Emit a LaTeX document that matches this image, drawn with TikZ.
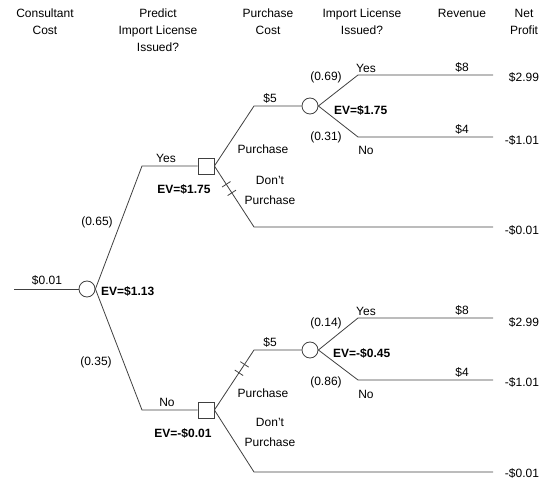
\documentclass[tikz,border=0pt]{standalone}
\usepackage{fontspec}
\setmainfont{Liberation Sans}
\usetikzlibrary{calc}
\begin{document}
\begin{tikzpicture}[x=1pt,y=-1pt,
  every node/.style={inner sep=0pt, font=\fontsize{12}{14}\selectfont},
  branch/.style={draw=black!75, line width=0.8pt},
  chance/.style={circle, draw=black!75, line width=0.8pt, minimum size=16pt, inner sep=0pt},
  decision/.style={rectangle, draw=black!75, line width=0.8pt, minimum size=16pt, inner sep=0pt},
  lbl/.style={font=\fontsize{12}{14}\selectfont},
  ev/.style={font=\bfseries\fontsize{12}{14}\selectfont},
  hdr/.style={align=center, anchor=north, font=\fontsize{12}{17}\selectfont}]
\useasboundingbox (0,0) rectangle (549,481);

% headers
\node[hdr] (h1) at (45,9) {Consultant\\Cost};
\node[hdr] (h2) at (158,9) {Predict\\Import License\\Issued?};
\node[hdr] (h3) at (268,9) {Purchase\\Cost};
\node[hdr] (h4) at (362,9) {Import License\\Issued?};
\node[hdr] (h5) at (462,9) {Revenue};
\node[hdr] (h6) at (524,9) {Net\\Profit};

% nodes and bends
\coordinate (r0) at (14,289);
\node[chance] (c0) at (87,289) {};
\coordinate (k1) at (142,166);
\node[decision] (d1) at (206,166) {};
\coordinate (k2) at (142,410);
\node[decision] (d2) at (206,410) {};
\coordinate (k3) at (254,106);
\node[chance] (c1) at (310,106) {};
\coordinate (k4) at (254,227); \coordinate (e4) at (493,227);
\coordinate (k5) at (358,75);  \coordinate (e5) at (493,75);
\coordinate (k6) at (358,137); \coordinate (e6) at (493,137);
\coordinate (k7) at (254,350);
\node[chance] (c2) at (310,350) {};
\coordinate (k8) at (358,318); \coordinate (e8) at (493,318);
\coordinate (k9) at (358,380); \coordinate (e9) at (493,380);
\coordinate (k10) at (254,472); \coordinate (e10) at (493,472);

% branches
\draw[branch] (r0) -- (c0.west);
\draw[branch] (c0.east) -- (k1) -- (d1.west);
\draw[branch] (c0.east) -- (k2) -- (d2.west);
\draw[branch] (d1.east) -- (k3) -- (c1.west);
\draw[branch] (d1.east) -- (k4) -- (e4);
\draw[branch] (c1.east) -- (k5) -- (e5);
\draw[branch] (c1.east) -- (k6) -- (e6);
\draw[branch] (d2.east) -- (k7) -- (c2.west);
\draw[branch] (d2.east) -- (k10) -- (e10);
\draw[branch] (c2.east) -- (k8) -- (e8);
\draw[branch] (c2.east) -- (k9) -- (e9);

% pruning ticks
\coordinate (t1) at ($(d1.east)!0.3!(k4)$);
\coordinate (t2) at ($(d1.east)!0.44!(k4)$);
\coordinate (t3) at ($(d2.east)!0.62!(k7)$);
\coordinate (t4) at ($(d2.east)!0.76!(k7)$);
\draw[branch] ($(t1)!5pt!90:(k4)$) -- ($(t1)!5pt!-90:(k4)$);
\draw[branch] ($(t2)!5pt!90:(k4)$) -- ($(t2)!5pt!-90:(k4)$);
\draw[branch] ($(t3)!5pt!90:(k7)$) -- ($(t3)!5pt!-90:(k7)$);
\draw[branch] ($(t4)!5pt!90:(k7)$) -- ($(t4)!5pt!-90:(k7)$);

% labels
\node[lbl] (l1) at (47,280) {\$0.01};
\node[ev, anchor=west] (ev0) at (101,291) {EV=\$1.13};
\node[lbl] (p1) at (97,222) {(0.65)};
\node[lbl] (p2) at (96,362) {(0.35)};
\node[lbl] (y1) at (166,158) {Yes};
\node[lbl] (n1) at (167,402) {No};
\node[ev] (ev1) at (184,189) {EV=\$1.75};
\node[ev] (ev2) at (183,433) {EV=-\$0.01};

\node[lbl] (s1) at (270,98) {\$5};
\node[lbl] (pu1) at (263,149) {Purchase};
\node[lbl, align=center, font=\fontsize{12}{20}\selectfont] (dp1) at (270,190) {Don't\\Purchase};
\node[lbl] (s2) at (270,342) {\$5};
\node[lbl] (pu2) at (263,393) {Purchase};
\node[lbl, align=center, font=\fontsize{12}{20}\selectfont] (dp2) at (270,432) {Don't\\Purchase};

\node[lbl] (q1) at (326,77) {(0.69)};
\node[lbl] (y2) at (366,68) {Yes};
\node[ev, anchor=west] (ev3) at (334,110) {EV=\$1.75};
\node[lbl] (q2) at (326,137) {(0.31)};
\node[lbl] (n2) at (366,150) {No};

\node[lbl] (q3) at (326,323) {(0.14)};
\node[lbl] (y3) at (366,311) {Yes};
\node[ev, anchor=west] (ev4) at (333,353) {EV=-\$0.45};
\node[lbl] (q4) at (326,382) {(0.86)};
\node[lbl] (n3) at (366,394) {No};

\node[lbl] (r1) at (462,67) {\$8};
\node[lbl] (r2) at (462,129) {\$4};
\node[lbl] (r3) at (462,310) {\$8};
\node[lbl] (r4) at (462,372) {\$4};

\node[lbl] (v1) at (524,77) {\$2.99};
\node[lbl] (v2) at (522,140) {-\$1.01};
\node[lbl] (v3) at (522,230) {-\$0.01};
\node[lbl] (v4) at (524,322) {\$2.99};
\node[lbl] (v5) at (522,382) {-\$1.01};
\node[lbl] (v6) at (522,473) {-\$0.01};
\end{tikzpicture}
\end{document}
